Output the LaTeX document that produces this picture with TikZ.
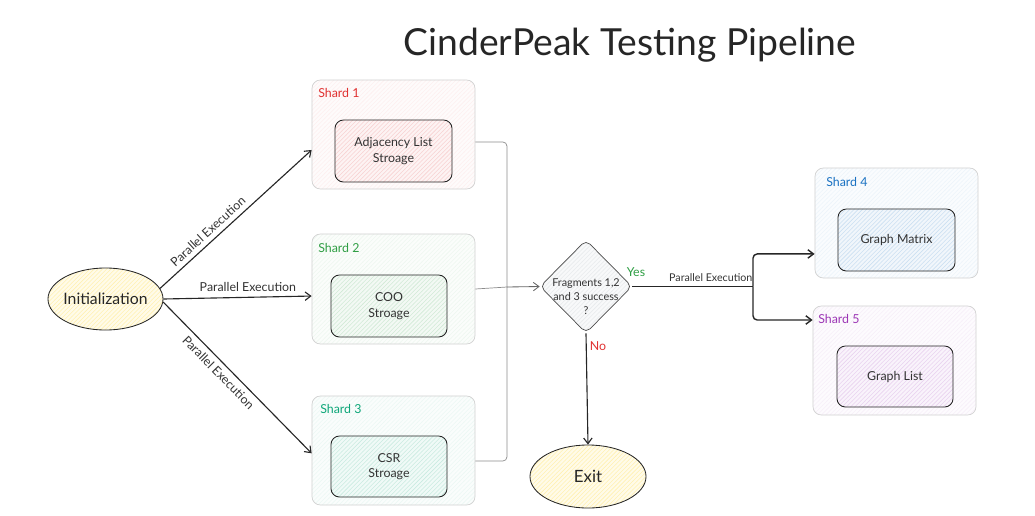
\documentclass[tikz,border=0pt]{standalone}
\usepackage{fontspec}
\setmainfont{Lato}
\usetikzlibrary{shapes.geometric,arrows.meta,patterns}
\definecolor{redshard}{HTML}{E03131}
\definecolor{greenshard}{HTML}{2F9E44}
\definecolor{tealshard}{HTML}{0CA678}
\definecolor{blueshard}{HTML}{1971C2}
\definecolor{purpleshard}{HTML}{9C36B5}
\definecolor{sandfill}{HTML}{FFEC99}
\definecolor{greyfill}{HTML}{DEE2E6}

\begin{document}
\begin{tikzpicture}[x=0.025cm,y=-0.025cm,
    shardbox/.style={draw=black!18, line width=0.5pt, rounded corners=6pt,
        preaction={fill=#1!2}, pattern=north east lines, pattern color=#1!8},
    storebox/.style={draw=black!85, line width=0.6pt, rounded corners=6pt, align=center,
        preaction={fill=#1!6}, pattern=north east lines, pattern color=#1!22,
        font=\fontsize{8.8}{11}\selectfont, text=black!80},
    shardname/.style={anchor=north west, inner sep=0pt, font=\fontsize{8.8}{10}\selectfont},
    oval/.style={ellipse, draw=black!85, line width=0.6pt, preaction={fill=sandfill!22},
        pattern=north east lines, pattern color=sandfill!75, text=black!85,
        inner xsep=-1pt, inner ysep=0pt},
    arr/.style={draw=black!85, line width=0.8pt, -{Straight Barb[length=4pt,width=6pt]}},
    merge/.style={draw=black!45, line width=0.5pt, rounded corners=3pt},
    lbl/.style={font=\fontsize{8.8}{10}\selectfont, text=black!80}]
    \useasboundingbox (0,0) rectangle (1035,515);
    \node[font=\fontsize{26.5}{30}\selectfont, text=black!85] (title) at (630,45) {CinderPeak Testing Pipeline};
    % shards 1-3
    \node[shardbox=redshard, minimum width=4.075cm, minimum height=2.725cm] (s1) at (393.5,134.5) {};
    \node[storebox=redshard, minimum width=2.925cm, minimum height=1.55cm] (s1in) at (393.5,151) {Adjacency List\\Stroage};
    \node[shardname, text=redshard] (s1name) at (318,88) {Shard 1};
    \node[shardbox=greenshard, minimum width=4.075cm, minimum height=2.75cm] (s2) at (393.5,289) {};
    \node[storebox=greenshard, minimum width=2.9cm, minimum height=1.55cm] (s2in) at (389,306) {COO\\Stroage};
    \node[shardname, text=greenshard] (s2name) at (318,243) {Shard 2};
    \node[shardbox=tealshard, minimum width=4.075cm, minimum height=2.725cm] (s3) at (393.5,450.5) {};
    \node[storebox=tealshard, minimum width=2.9cm, minimum height=1.525cm] (s3in) at (389,466.5) {CSR\\Stroage};
    \node[shardname, text=tealshard] (s3name) at (320,404) {Shard 3};
    % shards 4-5
    \node[shardbox=blueshard, minimum width=4.075cm, minimum height=2.75cm] (s4) at (896.5,223) {};
    \node[storebox=blueshard, minimum width=2.925cm, minimum height=1.55cm] (s4in) at (896.5,240) {Graph Matrix};
    \node[shardname, text=blueshard] (s4name) at (826,177) {Shard 4};
    \node[shardbox=purpleshard, minimum width=4.075cm, minimum height=2.725cm] (s5) at (894.5,360.5) {};
    \node[storebox=purpleshard, minimum width=2.9cm, minimum height=1.525cm] (s5in) at (895,376.5) {Graph List};
    \node[shardname, text=purpleshard] (s5name) at (818,314) {Shard 5};
    % start, decision, end
    \node[oval, minimum width=2.875cm, minimum height=1.55cm, font=\fontsize{11.2}{13}\selectfont] (init) at (105.5,299) {Initialization};
    \node[diamond, draw=black!70, line width=0.5pt, rounded corners=4pt, inner sep=0pt,
        minimum width=2.3cm, minimum height=2.325cm, preaction={fill=greyfill!20},
        pattern=north east lines, pattern color=greyfill!70,
        font=\fontsize{7.7}{10}\selectfont, text=black!80] (q) at (586,286.5)
        {\raisebox{-10pt}[0pt][0pt]{\begin{tabular}{@{}c@{}}Fragments 1,2\\and 3 success\\?\end{tabular}}};
    \node[oval, minimum width=2.9cm, minimum height=1.575cm, font=\fontsize{12}{14}\selectfont] (exit) at (588,476.5) {Exit};
    % fan out
    \draw[arr] (init.11) -- node[lbl, sloped, above, pos=0.36] {Parallel Execution} ([yshift=-11pt]s1.west);
    \draw[arr] (init.east) -- node[lbl, above, pos=0.57] {Parallel Execution} ([yshift=-5pt]s2.west);
    \draw[arr] (init.-3) -- node[lbl, sloped, below, pos=0.42] {Parallel Execution} ([yshift=-2pt]s3.west);
    % join
    \coordinate (mj) at (507,287);
    \draw[merge] ([yshift=-5.3pt]s1.east) -| (mj);
    \draw[merge] (s2.east) -- (mj);
    \draw[merge] ([yshift=-7.5pt]s3.east) -| (mj);
    \draw[arr, draw=black!60, line width=0.6pt] (mj) -- (q.west);
    % yes / no
    \coordinate (yj) at (753,286.5);
    \draw[draw=black!85, line width=1pt] (q.east) -- node[lbl, above, pos=0.65, font=\fontsize{7.6}{9}\selectfont] {Parallel Execution} (yj);
    \draw[arr, line width=1pt, rounded corners=3pt] (yj) |- ([yshift=-22pt]s4.west);
    \draw[arr, line width=1pt, rounded corners=3pt] (yj) |- ([yshift=28.8pt]s5.west);
    \node[font=\fontsize{8.8}{10}\selectfont, text=greenshard] (yes) at (636,272) {Yes};
    \draw[arr] (q.south) -- (exit.north);
    \node[font=\fontsize{8.8}{10}\selectfont, text=redshard] (no) at (598,346) {No};
\end{tikzpicture}
\end{document}
